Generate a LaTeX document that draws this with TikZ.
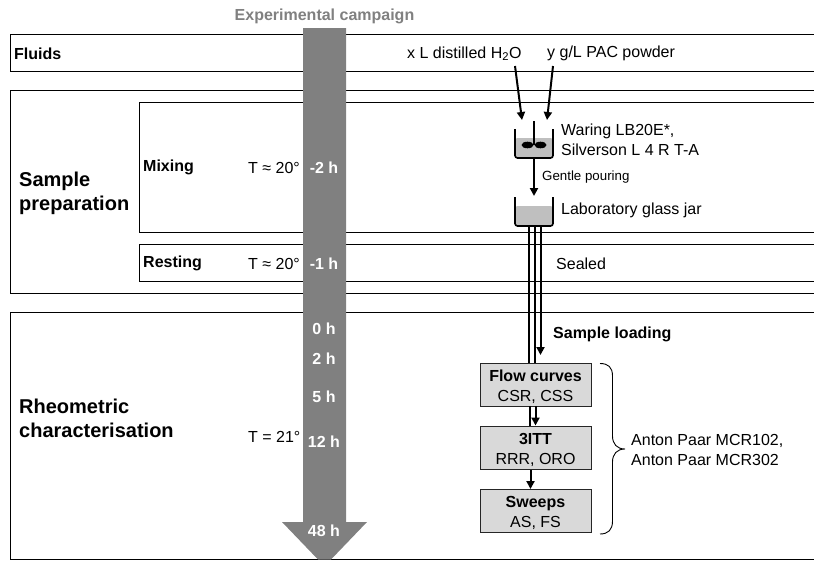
\documentclass[tikz,border=0pt]{standalone}
\usepackage{fontspec}
\setmainfont{Liberation Sans}
\usepackage{xcolor}
\usetikzlibrary{arrows.meta}
\definecolor{campaigngrey}{HTML}{808080}
\definecolor{liquidgrey}{HTML}{BFBFBF}
\definecolor{testgrey}{HTML}{D9D9D9}
\newcommand{\testhead}[1]{\rule{0pt}{15.5pt}\textbf{#1}}
\tikzset{
    band/.style={draw=black,line width=0.9pt},
    heading/.style={anchor=west,inner sep=0pt,yshift=-0.8pt,font=\bfseries\fontsize{20}{24}\selectfont,align=left},
    txt/.style={anchor=west,inner sep=0pt,yshift=-0.8pt,font=\fontsize{16}{19.5}\selectfont,align=left},
    boldtxt/.style={anchor=west,inner sep=0pt,yshift=-0.8pt,font=\bfseries\fontsize{16}{19}\selectfont},
    hour/.style={text=white,yshift=-0.8pt,font=\bfseries\fontsize{16}{19}\selectfont},
    testbox/.style={draw=black!85,line width=0.9pt,fill=testgrey,minimum width=111pt,minimum height=43pt,inner sep=0pt,align=center,font=\fontsize{16}{20}\selectfont},
    flow/.style={line width=2pt,-{Triangle[length=8pt,width=8pt]}},
    feed/.style={line width=2pt},
    vessel/.style={line width=1.6pt,rounded corners=2.5pt}
}
\begin{document}
\begin{tikzpicture}[x=1pt,y=-1pt]
    \useasboundingbox (0,0) rectangle (814,560);

    % Bands
    \draw[band] (10,34) rectangle (816,71);
    \draw[band] (10,90) rectangle (816,293);
    \draw[band] (139.5,102) rectangle (816,232);
    \draw[band] (139.5,244) rectangle (816,281);
    \draw[band] (10,312) rectangle (816,559);

    % Time arrow
    \fill[campaigngrey] (303,28) -- (346,28) -- (346,522) -- (367,522) -- (331,559.5) -- (318,559.5) -- (282,522) -- (303,522) -- cycle;
    \node[text=campaigngrey,font=\bfseries\fontsize{16}{19}\selectfont] (campaign) at (324.5,16) {Experimental campaign};
    \foreach \y/\hr in {167/-2, 263/-1, 328/0, 358/2, 396/5, 441/12, 530/48} {
        \node[hour] (h\hr) at (324,\y) {\hr\ h};
    }

    % Left labels
    \node[boldtxt] (fluids) at (14,53) {Fluids};
    \node[heading] (prep) at (19,192.5) {Sample\\preparation};
    \node[boldtxt] (mixing) at (143,167) {Mixing};
    \node[boldtxt] (resting) at (143,263) {Resting};
    \node[heading] (rheo) at (19,417.5) {Rheometric\\characterisation};
    \foreach \y/\temp/\tname in {167/T ≈ 20°/a, 263/T ≈ 20°/b, 436/T = 21°/c} {
        \node[txt] (temp\tname) at (248,\y) {\temp};
    }

    % Ingredients
    \node[txt] (water) at (407,53) {x L distilled H\textsubscript{2}O};
    \node[txt] (powder) at (547,53) {y g/L PAC powder};

    % Mixer
    \fill[liquidgrey,rounded corners=2.5pt] (515,138) -- (515,158) -- (553,158) -- (553,138) -- cycle;
    \draw[vessel] (515,129) -- (515,158) -- (553,158) -- (553,129);
    \draw[line width=1.6pt] (534,121) -- (534,145);
    \fill (527.5,145) ellipse (6 and 3.3);
    \fill (540.5,145) ellipse (6 and 3.3);
    \coordinate (mixtop1) at (522,120);
    \coordinate (mixtop2) at (547,120);
    \coordinate (mixbot) at (534,158);
    \node[txt] (mixer) at (561,139) {Waring LB20E*,\\Silverson L 4 R T-A};

    % Jar
    \fill[liquidgrey,rounded corners=2.5pt] (515,206) -- (515,226) -- (553,226) -- (553,206) -- cycle;
    \draw[vessel] (515,197) -- (515,226) -- (553,226) -- (553,197);
    \coordinate (jartop) at (534,196);
    \coordinate (jarbot1) at (529,226);
    \coordinate (jarbot2) at (535,226);
    \coordinate (jarbot3) at (540.5,226);
    \node[txt] (jar) at (561,210) {Laboratory glass jar};

    \draw[flow] (515,66) -- (mixtop1);
    \draw[flow] (553,66) -- (mixtop2);
    \draw[flow] (mixbot) -- (jartop);
    \node[anchor=west,inner sep=0pt,font=\fontsize{13.3}{16}\selectfont] (pouring) at (542,177) {Gentle pouring};
    \node[txt] (sealed) at (556,263) {Sealed};
    \node[boldtxt] (loading) at (553,334) {Sample loading};

    % Tests
    \node[testbox] (flowc) at (535.5,384.5) {\testhead{Flow curves}\\CSR, CSS};
    \node[testbox] (ittt) at (535.5,448) {\testhead{3ITT}\\RRR, ORO};
    \node[testbox] (sweeps) at (535.5,511) {\testhead{Sweeps}\\AS, FS};

    \draw[feed] (jarbot1) -- (jarbot1 |- flowc.north);
    \draw[feed] (jarbot2) -- (jarbot2 |- flowc.north);
    \draw[flow] (jarbot3) -- (540.5,355);
    \draw[feed] (530,406) -- (530,426);
    \draw[flow] (535.5,406) -- (535.5,425.5);
    \draw[flow] (530.5,470) -- (530.5,489);

    % Devices
    \draw[line width=0.9pt] (600,363.5) .. controls (608,363.5) and (612.5,367) .. (612.5,376) -- (612.5,436) .. controls (612.5,444) and (617,449) .. (625,449) .. controls (617,449) and (612.5,454) .. (612.5,462) -- (612.5,521) .. controls (612.5,530) and (608,534) .. (600,534);
    \node[txt] (devices) at (631,449) {Anton Paar MCR102,\\Anton Paar MCR302};
\end{tikzpicture}
\end{document}
